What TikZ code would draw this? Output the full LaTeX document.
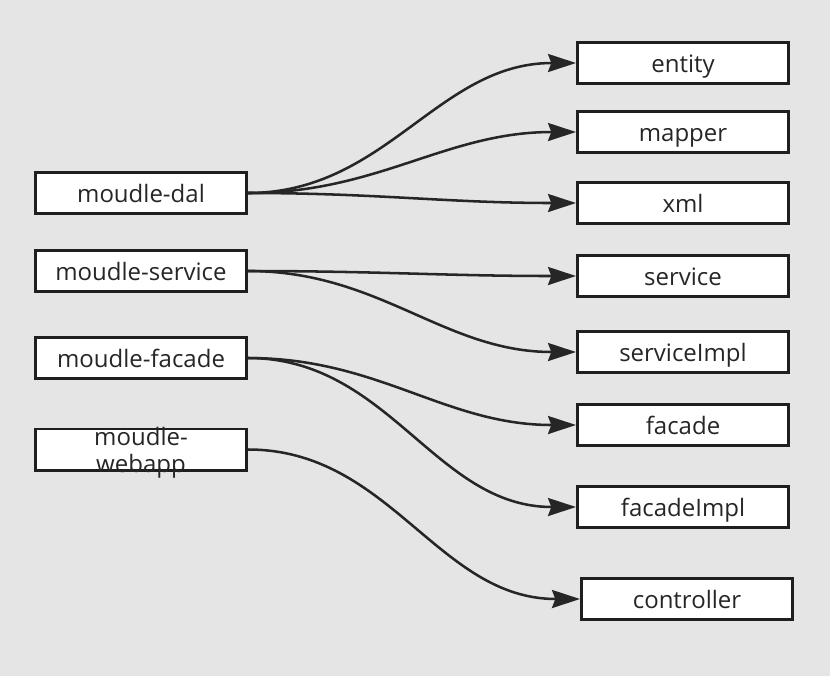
\documentclass[tikz,border=0pt]{standalone}
\usepackage{fontspec}
\setmainfont{Open Sans}
\usetikzlibrary{arrows.meta}

\begin{document}
\begin{tikzpicture}[x=0.75pt,y=-0.75pt,
  box/.style={draw=black!88,line width=2pt,fill=white,minimum width=158.5pt,minimum height=31pt,inner sep=0pt,text height=16pt,text depth=1.4pt,font=\fontsize{18}{20.5}\selectfont,text=black!85},
  link/.style={draw=black!85,line width=1.9pt,-{Stealth[length=21pt,width=13.5pt,inset=2.5pt]}}]

\fill[black!10] (0,0) rectangle (830,676);
\useasboundingbox (0,0) rectangle (830,676);

% modules
\node[box] (dal) at (141,193) {moudle-dal};
\node[box] (service) at (141,271) {moudle-service};
\node[box] (facade) at (141,358) {moudle-facade};
\node[box] (webapp) at (141,449.5) {\smash{\begin{tabular}{@{}c@{}}moudle-\\webapp\end{tabular}}};

% packages
\node[box] (entity) at (683,63) {entity};
\node[box] (mapper) at (683,132) {mapper};
\node[box] (xml) at (683,203) {xml};
\node[box] (srv) at (683,276) {service};
\node[box] (srvimpl) at (683,352) {serviceImpl};
\node[box] (fcd) at (683,425) {facade};
\node[box] (fcdimpl) at (683,507) {facadeImpl};
\node[box] (ctrl) at (687,599) {controller};

\draw[link] (dal.east) to[out=0,in=180] (entity.west);
\draw[link] (dal.east) to[out=0,in=180] (mapper.west);
\draw[link] (dal.east) to[out=0,in=180] (xml.west);
\draw[link] (service.east) to[out=0,in=180] (srv.west);
\draw[link] (service.east) to[out=0,in=180] (srvimpl.west);
\draw[link] (facade.east) to[out=0,in=180] (fcd.west);
\draw[link] (facade.east) to[out=0,in=180] (fcdimpl.west);
\draw[link] (webapp.east) to[out=0,in=180] (ctrl.west);

\end{tikzpicture}
\end{document}
